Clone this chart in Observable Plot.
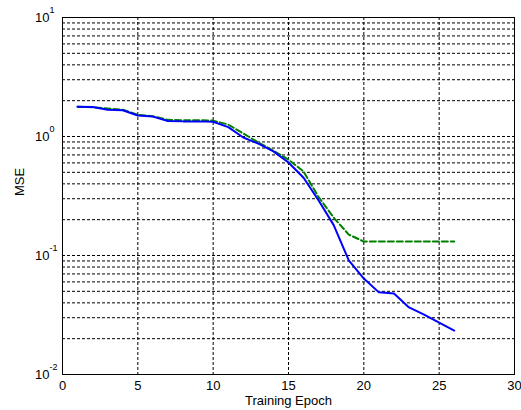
<!DOCTYPE html>
<html>
<head>
<meta charset="utf-8">
<script src="https://cdn.jsdelivr.net/npm/d3@7"></script>
<script src="https://cdn.jsdelivr.net/npm/@observablehq/plot@0.6"></script>
<style>
  html, body { margin: 0; padding: 0; background: #fff; }
  svg { display: block; }
</style>
</head>
<body>
<div id="chart"></div>
<script>
const epochs = [1,2,3,4,5,6,7,8,9,10,11,12,13,14,15,16,17,18,19,20,21,22,23,24,25,26];
const trainMSE = [1.78,1.77,1.68,1.66,1.50,1.47,1.35,1.34,1.34,1.33,1.20,0.98,0.87,0.75,0.605,0.45,0.29,0.18,0.091,0.064,0.049,0.048,0.0366,0.0319,0.0273,0.0234];
const validEpochs = [1,2,3,4,5,6,7,8,9,10,11,12,13,14,15,16,17,18,19,20,21,22,23,24,25,26];
const validMSE = [1.78,1.76,1.72,1.68,1.52,1.48,1.38,1.37,1.37,1.36,1.26,1.06,0.89,0.76,0.64,0.508,0.31,0.208,0.150,0.131,0.131,0.131,0.131,0.131,0.131,0.131];
const xTicks = [0,5,10,15,20,25,30];
const yTicks = [0.01,0.1,1,10];
const yExponents = ["-2","-1","0","1"];
const xLabel = "Training Epoch";
const yLabel = "MSE";

const yGrid = [];
for (const d of [0.01,0.1,1]) for (let k = 1; k <= 9; k++) yGrid.push(d*k);
yGrid.push(10);

const train = epochs.map((e,i) => ({epoch: e, mse: trainMSE[i]}));
const valid = validEpochs.map((e,i) => ({epoch: e, mse: validMSE[i]}));
const yTickData = yTicks.map((v,i) => ({v, exp: yExponents[i]}));

const font = "'Liberation Sans', Arial, Helvetica, sans-serif";

const chart = Plot.plot({
  width: 521,
  height: 410,
  marginLeft: 62,
  marginRight: 7,
  marginTop: 17,
  marginBottom: 36,
  style: {fontFamily: font, fontSize: "13px", background: "#fff", color: "#000"},
  x: {domain: [0, 30]},
  y: {type: "log", domain: [0.01, 10], axis: null},
  marks: [
    Plot.ruleX(xTicks.filter(d => d > 0 && d < 30), {stroke: "#000", strokeWidth: 1, strokeDasharray: "3,2"}),
    Plot.ruleY(yGrid.filter(d => d > 0.0100001 && d < 9.99), {stroke: "#000", strokeWidth: 1, strokeDasharray: "3,2"}),
    Plot.line(valid, {x: "epoch", y: "mse", stroke: "#008000", strokeWidth: 2, strokeDasharray: "6,3"}),
    Plot.line(train, {x: "epoch", y: "mse", stroke: "#0000ff", strokeWidth: 2}),
    Plot.frame({stroke: "#000", strokeWidth: 1}),
    Plot.axisX({ticks: xTicks, tickSize: 0, tickPadding: 6, fontSize: 13, label: xLabel, labelAnchor: "center", labelArrow: "none", labelOffset: 30}),
    Plot.text(yTickData, {y: "v", text: () => "10", frameAnchor: "left", dx: -13, textAnchor: "end", fontSize: 13, fill: "#000"}),
    Plot.text(yTickData, {y: "v", text: "exp", frameAnchor: "left", dx: -13, dy: -7, textAnchor: "start", fontSize: 9, fill: "#000"}),
    Plot.text([yLabel], {text: d => d, frameAnchor: "left", dx: -43, rotate: -90, fontSize: 13, fill: "#000"})
  ]
});
document.getElementById("chart").append(chart);
</script>
</body>
</html>
